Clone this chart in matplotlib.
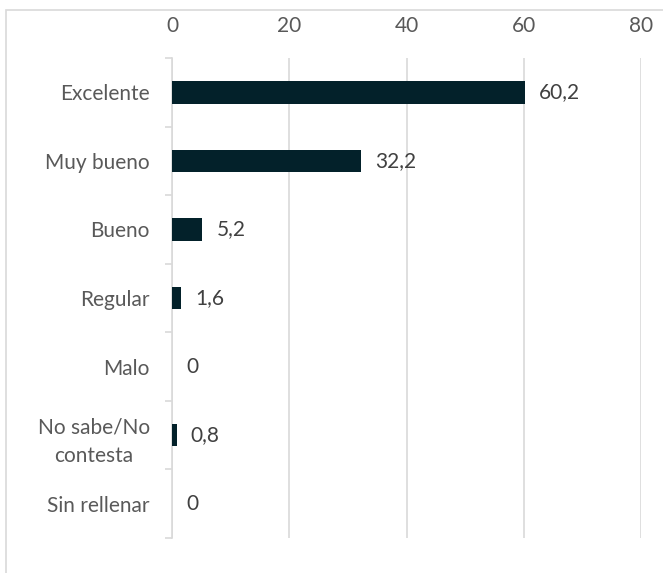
import matplotlib.pyplot as plt
from matplotlib.patches import Rectangle

categories = ["Excelente", "Muy bueno", "Bueno", "Regular", "Malo",
              "No sabe/No\ncontesta", "Sin rellenar"]
values = [60.2, 32.2, 5.2, 1.6, 0, 0.8, 0]
xticks = [0, 20, 40, 60, 80]

BAR = "#03212a"
GRID = "#d9d9d9"
TEXT = "#595959"
FS = 15

plt.rcParams["font.family"] = ["Lato", "DejaVu Sans"]

W, H = 663, 573
fig = plt.figure(figsize=(W / 100, H / 100), dpi=100)

# chart frame running off the right and bottom edges
fig.patches.append(Rectangle((6 / W, -0.1), 1.2, 1 - 10 / H + 0.1,
                             transform=fig.transFigure, fill=False,
                             edgecolor=GRID, linewidth=1.2))

ax = fig.add_axes([172 / W, 1 - 538 / H, (641 - 172) / W, (538 - 58) / H])
n = len(categories)
pos = list(range(n))
ax.barh(pos, values, height=0.33, color=BAR, edgecolor="none", zorder=3)

ax.set_xlim(0, 80)
ax.set_ylim(n - 0.5, -0.5)
ax.set_xticks(xticks)
ax.xaxis.tick_top()
ax.tick_params(axis="x", length=0, pad=16, labelsize=FS, labelcolor=TEXT)
ax.grid(axis="x", color=GRID, linewidth=1.2, zorder=0)

ax.set_yticks(pos)
ax.set_yticklabels(categories)
ax.tick_params(axis="y", length=0, pad=16, labelsize=FS, labelcolor=TEXT)
for lbl in ax.get_yticklabels():
    lbl.set_multialignment("center")
    lbl.set_linespacing(1.55)
ax.set_yticks([i - 0.5 for i in range(n + 1)], minor=True)
ax.tick_params(axis="y", which="minor", length=5, color=GRID, width=1.2)

for s in ["top", "right", "bottom"]:
    ax.spines[s].set_visible(False)
ax.spines["left"].set_color(GRID)
ax.spines["left"].set_linewidth(1.2)

for y, v in zip(pos, values):
    ax.annotate(f"{v:g}".replace(".", ","), (v, y), xytext=(10, 0),
                textcoords="offset points", va="center", ha="left",
                fontsize=FS, color="#404040")

fig.savefig("out.png", dpi=100)
